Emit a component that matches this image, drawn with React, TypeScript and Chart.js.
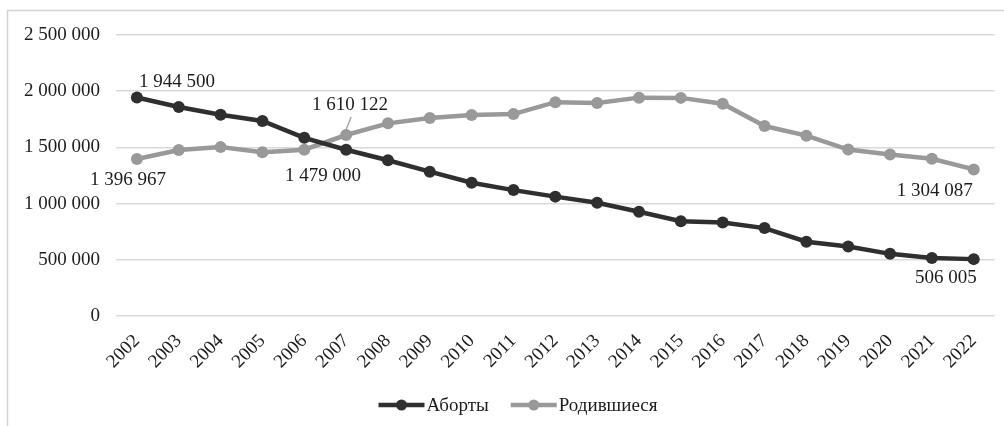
import { useEffect, useRef } from "react";
import { Chart, registerables } from "chart.js";

Chart.register(...registerables);

const years = ["2002","2003","2004","2005","2006","2007","2008","2009","2010","2011","2012","2013","2014","2015","2016","2017","2018","2019","2020","2021","2022"];
const abortions = [1944500, 1860000, 1790000, 1735000, 1585000, 1479000, 1386000, 1284000, 1186000, 1120000, 1062000, 1008000, 928000, 843000, 832000, 782000, 661000, 618000, 553000, 516000, 506005];
const births = [1396967, 1477300, 1502500, 1457400, 1479600, 1610122, 1713900, 1761700, 1788900, 1796600, 1902100, 1895800, 1942700, 1940600, 1888700, 1690300, 1604300, 1481100, 1436500, 1398300, 1304087];
const seriesNames = ["Аборты", "Родившиеся"];
const yMin = 0;
const yMax = 2500000;
const yStep = 500000;

const FONT = "'Liberation Serif', 'Times New Roman', serif";
const FS = 19;
const darkColor = "#2f2f2f";
const grayColor = "#999999";

const fmt = (v: number) => String(Math.round(v)).replace(/\B(?=(\d{3})+(?!\d))/g, " ");

// label placements: [datasetIndex, pointIndex, dx, dy, align]
const labelSpecs: [number, number, number, number, CanvasTextAlign][] = [
  [0, 0, 2, -15, "left"],
  [1, 0, 29, 21, "right"],
  [0, 5, 15, 26, "right"],
  [1, 5, 4, -30, "center"],
  [1, 20, -1, 22, "right"],
  [0, 20, 3, 19, "right"],
];

const framePlugin = {
  id: "frame",
  beforeDraw(chart: any) {
    const ctx = chart.ctx;
    ctx.save();
    ctx.strokeStyle = "#d4d4d4";
    ctx.lineWidth = 1.5;
    ctx.beginPath();
    ctx.moveTo(7.5, chart.height);
    ctx.lineTo(7.5, 10.5);
    ctx.lineTo(chart.width, 10.5);
    ctx.stroke();
    ctx.restore();
  },
};

const labelsPlugin = {
  id: "pointLabels",
  afterDatasetsDraw(chart: any) {
    const ctx = chart.ctx;
    ctx.save();
    ctx.font = `${FS}px ${FONT}`;
    ctx.fillStyle = "#1c1c1c";
    ctx.textBaseline = "middle";
    labelSpecs.forEach(([ds, idx, dx, dy, align]) => {
      const pt = chart.getDatasetMeta(ds).data[idx];
      const val = chart.data.datasets[ds].data[idx];
      ctx.textAlign = align;
      ctx.fillText(fmt(val), pt.x + dx, pt.y + dy);
      if (ds === 1 && idx === 5) {
        ctx.strokeStyle = "#999999";
        ctx.lineWidth = 1.2;
        ctx.beginPath();
        ctx.moveTo(pt.x + 5, pt.y - 18);
        ctx.lineTo(pt.x - 1, pt.y - 3);
        ctx.stroke();
      }
    });
    ctx.restore();
  },
};

const legendPlugin = {
  id: "customLegend",
  afterDraw(chart: any) {
    const ctx = chart.ctx;
    ctx.save();
    ctx.font = `${FS}px ${FONT}`;
    ctx.textBaseline = "middle";
    const y = 405;
    const lineW = 46;
    const gapText = 2;
    const gapItems = 22;
    const widths = seriesNames.map((n) => lineW + gapText + ctx.measureText(n).width);
    const total = widths[0] + widths[1] + gapItems;
    let x = 518 - total / 2;
    chart.data.datasets.forEach((ds: any, i: number) => {
      ctx.strokeStyle = ds.borderColor;
      ctx.lineWidth = 4.5;
      ctx.beginPath();
      ctx.moveTo(x, y);
      ctx.lineTo(x + lineW, y);
      ctx.stroke();
      ctx.fillStyle = ds.borderColor;
      ctx.beginPath();
      ctx.arc(x + lineW / 2, y, 5.5, 0, Math.PI * 2);
      ctx.fill();
      ctx.fillStyle = "#1c1c1c";
      ctx.textAlign = "left";
      ctx.fillText(seriesNames[i], x + lineW + gapText, y + 1);
      x += widths[i] + gapItems;
    });
    ctx.restore();
  },
};

export default function App() {
  const ref = useRef<HTMLCanvasElement>(null);
  useEffect(() => {
    if (!ref.current) return;
    const chart = new Chart(ref.current, {
      type: "line",
      data: {
        labels: years,
        datasets: [
          {
            label: seriesNames[0],
            data: abortions,
            borderColor: darkColor,
            backgroundColor: darkColor,
            borderWidth: 4.5,
            pointRadius: 6,
            pointBackgroundColor: darkColor,
            pointBorderWidth: 0,
            tension: 0,
          },
          {
            label: seriesNames[1],
            data: births,
            borderColor: grayColor,
            backgroundColor: grayColor,
            borderWidth: 4.5,
            pointRadius: 6,
            pointBackgroundColor: grayColor,
            pointBorderWidth: 0,
            tension: 0,
          },
        ],
      },
      options: {
        animation: false,
        responsive: false,
        maintainAspectRatio: false,
        layout: { padding: { left: 0, right: 6, top: 35, bottom: 50 } },
        plugins: {
          legend: { display: false },
          tooltip: { enabled: false },
        },
        scales: {
          x: {
            offset: true,
            grid: { display: false, drawTicks: false },
            border: { display: false },
            ticks: {
              font: { family: FONT, size: FS },
              color: "#1c1c1c",
              maxRotation: 45,
              minRotation: 45,
              padding: 14,
              autoSkip: false,
            },
            afterFit: (s: any) => { s.height = 60; },
          },
          y: {
            min: yMin,
            max: yMax,
            grid: { color: "#d9d9d9", lineWidth: 1.5, drawTicks: false },
            border: { display: false },
            ticks: {
              stepSize: yStep,
              font: { family: FONT, size: FS },
              color: "#1c1c1c",
              padding: 16,
              callback: (v: any) => fmt(Number(v)),
            },
            afterFit: (s: any) => { s.width = 116; },
          },
        },
      },
      plugins: [framePlugin, labelsPlugin, legendPlugin],
    });
    return () => chart.destroy();
  }, []);
  return (
    <div style={{ position: "fixed", left: 0, top: 0, width: 1004, height: 426, background: "#fff" }}>
      <canvas ref={ref} width={1004} height={426} style={{ width: 1004, height: 426, display: "block" }} />
    </div>
  );
}
